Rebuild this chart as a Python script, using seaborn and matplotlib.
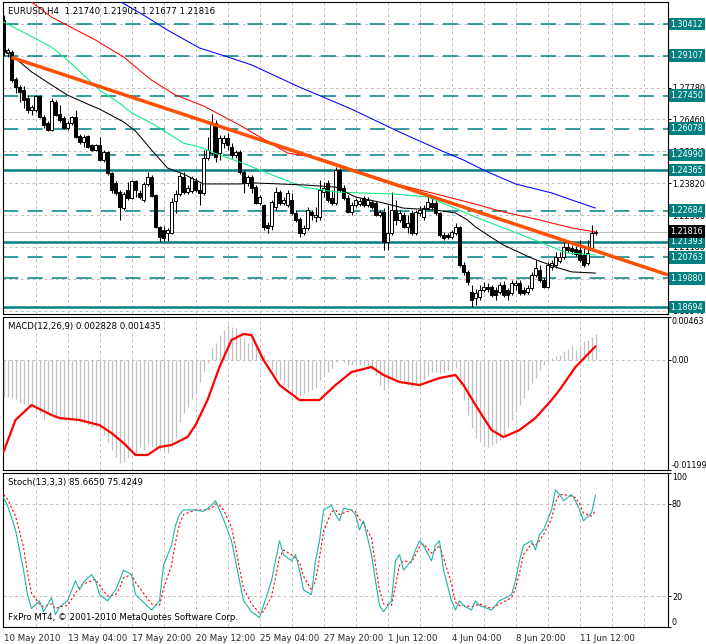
import numpy as np
import matplotlib
matplotlib.use("Agg")
import matplotlib.pyplot as plt
import matplotlib.transforms as mtransforms
import seaborn as sns

# ---------------- data ----------------
open_ = [1.3058,1.2921,1.2925,1.2814,1.2780,1.2768,1.2735,1.2685,1.2685,1.2743,
         1.2656,1.2631,1.2602,1.2718,1.2669,1.2652,1.2611,1.2631,1.2656,1.2578,
         1.2553,1.2578,1.2540,1.2520,1.2540,1.2478,1.2511,1.2424,1.2383,1.2346,
         1.2280,1.2354,1.2321,1.2391,1.2342,1.2313,1.2379,1.2408,1.2333,1.2201,
         1.2188,1.2176,1.2176,1.2308,1.2337,1.2408,1.2346,1.2350,1.2391,1.2354,
         1.2342,1.2487,1.2507,1.2631,1.2507,1.2549,1.2569,1.2532,1.2499,1.2511,
         1.2429,1.2383,1.2408,1.2366,1.2300,1.2292,1.2209,1.2205,1.2284,1.2346,
         1.2300,1.2292,1.2313,1.2259,1.2234,1.2176,1.2197,1.2263,1.2242,1.2242,
         1.2346,1.2383,1.2321,1.2300,1.2437,1.2362,1.2321,1.2263,1.2292,1.2296,
         1.2321,1.2292,1.2304,1.2300,1.2251,1.2263,1.2139,1.2176,1.2271,1.2230,
         1.2251,1.2201,1.2259,1.2176,1.2259,1.2242,1.2280,1.2300,1.2300,1.2259,
         1.2168,1.2168,1.2159,1.2176,1.2201,1.2044,1.2015,1.1932,1.1907,1.1911,
         1.1940,1.1952,1.1952,1.1940,1.1932,1.1961,1.1940,1.1928,1.1961,1.1969,
         1.1940,1.1932,1.1948,1.2002,1.2023,1.1981,1.1952,1.2035,1.2044,1.2060,
         1.2077,1.2118,1.2114,1.2110,1.2106,1.2085,1.2052,1.2114,1.21740]
high_ = [1.3079,1.2942,1.2934,1.2822,1.2789,1.2785,1.2747,1.2706,1.2747,1.2747,
         1.2665,1.2640,1.2735,1.2727,1.2706,1.2660,1.2640,1.2660,1.2685,1.2586,
         1.2582,1.2582,1.2544,1.2544,1.2573,1.2520,1.2516,1.2429,1.2391,1.2354,
         1.2346,1.2387,1.2395,1.2395,1.2354,1.2387,1.2429,1.2416,1.2337,1.2205,
         1.2205,1.2197,1.2321,1.2354,1.2424,1.2429,1.2375,1.2412,1.2404,1.2383,
         1.2520,1.2573,1.2669,1.2644,1.2582,1.2582,1.2590,1.2549,1.2520,1.2520,
         1.2437,1.2416,1.2416,1.2375,1.2333,1.2296,1.2222,1.2313,1.2366,1.2354,
         1.2325,1.2354,1.2342,1.2271,1.2242,1.2209,1.2284,1.2271,1.2284,1.2395,
         1.2387,1.2395,1.2354,1.2449,1.2445,1.2375,1.2333,1.2304,1.2321,1.2321,
         1.2329,1.2325,1.2313,1.2308,1.2271,1.2280,1.2292,1.2346,1.2313,1.2271,
         1.2263,1.2251,1.2271,1.2271,1.2288,1.2292,1.2333,1.2321,1.2313,1.2263,
         1.2180,1.2176,1.2188,1.2217,1.2205,1.2056,1.2023,1.1961,1.1944,1.1961,
         1.1973,1.1969,1.1961,1.1952,1.1973,1.1977,1.1948,1.1981,1.1981,1.1981,
         1.1952,1.1961,1.2015,1.2065,1.2044,1.1990,1.2056,1.2065,1.2097,1.2097,
         1.2139,1.2139,1.2126,1.2122,1.2147,1.2118,1.2147,1.2209,1.21901]
low_ = [1.2909,1.2905,1.2801,1.2756,1.2718,1.2694,1.2673,1.2665,1.2677,1.2652,
        1.2611,1.2598,1.2598,1.2660,1.2636,1.2607,1.2602,1.2623,1.2569,1.2544,
        1.2532,1.2528,1.2516,1.2516,1.2474,1.2470,1.2416,1.2342,1.2333,1.2230,
        1.2271,1.2313,1.2317,1.2325,1.2317,1.2304,1.2371,1.2325,1.2197,1.2139,
        1.2143,1.2143,1.2172,1.2259,1.2329,1.2337,1.2337,1.2342,1.2346,1.2292,
        1.2333,1.2478,1.2499,1.2470,1.2478,1.2528,1.2520,1.2487,1.2487,1.2420,
        1.2342,1.2371,1.2342,1.2296,1.2292,1.2188,1.2176,1.2188,1.2271,1.2292,
        1.2292,1.2284,1.2251,1.2222,1.2159,1.2168,1.2188,1.2230,1.2222,1.2230,
        1.2325,1.2304,1.2292,1.2292,1.2346,1.2313,1.2259,1.2251,1.2284,1.2288,
        1.2284,1.2284,1.2275,1.2246,1.2242,1.2106,1.2106,1.2168,1.2209,1.2222,
        1.2197,1.2176,1.2168,1.2168,1.2246,1.2230,1.2271,1.2275,1.2251,1.2159,
        1.2147,1.2151,1.2151,1.2168,1.2035,1.2002,1.1961,1.1870,1.1878,1.1899,
        1.1932,1.1932,1.1911,1.1899,1.1923,1.1911,1.1899,1.1919,1.1940,1.1919,
        1.1919,1.1923,1.1940,1.1994,1.1973,1.1948,1.1948,1.2023,1.2031,1.2052,
        1.2068,1.2097,1.2089,1.2081,1.2056,1.2035,1.2044,1.2106,1.21677]
close_ = [1.2925,1.2934,1.2809,1.2780,1.2760,1.2727,1.2685,1.2698,1.2743,1.2656,
          1.2623,1.2602,1.2723,1.2665,1.2644,1.2611,1.2631,1.2656,1.2573,1.2553,
          1.2573,1.2532,1.2520,1.2540,1.2478,1.2511,1.2424,1.2354,1.2342,1.2284,
          1.2337,1.2321,1.2391,1.2354,1.2325,1.2379,1.2408,1.2329,1.2201,1.2159,
          1.2155,1.2188,1.2304,1.2337,1.2412,1.2346,1.2362,1.2404,1.2354,1.2342,
          1.2487,1.2520,1.2631,1.2491,1.2569,1.2569,1.2540,1.2499,1.2511,1.2429,
          1.2383,1.2408,1.2362,1.2300,1.2325,1.2201,1.2197,1.2304,1.2346,1.2300,
          1.2313,1.2342,1.2259,1.2230,1.2176,1.2197,1.2271,1.2251,1.2251,1.2354,
          1.2362,1.2313,1.2300,1.2437,1.2354,1.2321,1.2263,1.2292,1.2313,1.2308,
          1.2292,1.2313,1.2284,1.2251,1.2263,1.2139,1.2176,1.2271,1.2230,1.2259,
          1.2201,1.2217,1.2176,1.2263,1.2271,1.2280,1.2304,1.2284,1.2259,1.2168,
          1.2155,1.2159,1.2180,1.2201,1.2044,1.2015,1.1973,1.1899,1.1928,1.1940,
          1.1952,1.1944,1.1919,1.1919,1.1961,1.1919,1.1919,1.1969,1.1969,1.1928,
          1.1928,1.1948,1.2002,1.2031,1.1981,1.1952,1.2044,1.2052,1.2077,1.2077,
          1.2118,1.2106,1.2101,1.2089,1.2065,1.2044,1.2093,1.2176,1.21816]

red_ma_bars = [6,12,23,30,37,43,50,59,71,79,89,99,107,117,125,134,142,148]
red_ma = [1.3145,1.3070,1.2975,1.2905,1.2809,1.2747,1.2702,1.2623,1.2507,1.2486,
          1.2429,1.2375,1.2342,1.2300,1.2263,1.2230,1.2197,1.2180]
blue_ma_bars = [29,35,41,49,56,62,74,87,99,109,115,121,128,137,142,148]
blue_ma = [1.3136,1.3078,1.3016,1.2942,1.2905,1.2872,1.2780,1.2689,1.2594,1.2520,
           1.2478,1.2429,1.2379,1.2342,1.2313,1.2279]
green_ma_bars = [0,12,16,24,29,32,37,41,45,49,54,59,66,75,83,89,98,106,111,118,125,134,141,148]
green_ma = [1.3050,1.2946,1.2892,1.2768,1.2714,1.2673,1.2631,1.2590,1.2548,1.2532,
            1.2499,1.2470,1.2424,1.2366,1.2346,1.2342,1.2337,1.2325,1.2292,1.2242,
            1.2197,1.2139,1.2093,1.2085]
black_ma_bars = [0,2,7,12,16,21,24,30,33,37,41,45,50,59,63,75,83,88,95,100,108,113,116,118,121,125,132,138,142,148]
black_ma = [1.2934,1.2913,1.2843,1.2789,1.2747,1.2710,1.2689,1.2636,1.2598,1.2520,
            1.2445,1.2420,1.2379,1.2379,1.2383,1.2375,1.2366,1.2325,1.2300,1.2279,
            1.2271,1.2259,1.2230,1.2201,1.2168,1.2126,1.2072,1.2035,1.2015,1.2010]

trend_bars = [2, 148]
trend_prices = [1.2903, 1.2102]

level_solid = [1.24365, 1.21393, 1.18694]
level_dashed = [1.30412, 1.29107, 1.27450, 1.26078, 1.24990, 1.22684, 1.20763, 1.19880]
price_ticks = [1.30420, 1.29100, 1.27780, 1.26460, 1.25140, 1.23820, 1.22500, 1.21180, 1.19860, 1.18540]
price_tick_labels = ["", "", "1.27780", "1.26460", "1.25140", "1.23820", "1.22500", "1.21180", "", "1.18540"]

macd_main = [-0.00406,-0.00406,-0.00417,-0.00428,-0.00471,-0.00482,-0.00482,-0.00493,-0.00547,-0.00580,
             -0.00656,-0.00580,-0.00580,-0.00623,-0.00656,-0.00656,-0.00634,-0.00656,-0.00678,-0.00678,
             -0.00689,-0.00710,-0.00732,-0.00732,-0.00765,-0.00819,-0.00895,-0.00982,-0.01058,-0.01123,
             -0.01112,-0.01069,-0.01015,-0.01036,-0.00949,-0.00982,-0.00927,-0.00949,-0.00960,-0.00982,
             -0.00982,-0.01015,-0.00949,-0.00851,-0.00678,-0.00580,-0.00515,-0.00428,-0.00363,-0.00243,
             -0.00135,-0.00037,0.00126,0.00180,0.00267,0.00321,0.00376,0.00354,0.00343,0.00245,
             0.00235,0.00180,0.00213,0.00159,0.00104,0.00050,-0.00026,-0.00113,-0.00167,-0.00222,
             -0.00276,-0.00308,-0.00352,-0.00385,-0.00385,-0.00363,-0.00352,-0.00330,-0.00308,-0.00222,
             -0.00167,-0.00135,-0.00091,-0.00026,-0.00004,-0.00026,-0.00059,-0.00059,-0.00059,-0.00059,
             -0.00059,-0.00080,-0.00113,-0.00167,-0.00276,-0.00330,-0.00276,-0.00222,-0.00200,-0.00222,
             -0.00254,-0.00276,-0.00298,-0.00276,-0.00243,-0.00222,-0.00167,-0.00135,-0.00135,-0.00146,
             -0.00135,-0.00113,-0.00091,-0.00091,-0.00276,-0.00439,-0.00602,-0.00743,-0.00851,-0.00895,
             -0.00927,-0.00949,-0.00927,-0.00906,-0.00873,-0.00819,-0.00743,-0.00656,-0.00569,-0.00493,
             -0.00417,-0.00330,-0.00254,-0.00200,-0.00113,-0.00059,-0.00026,0.00017,0.00039,0.00050,
             0.00093,0.00115,0.00159,0.00104,0.00159,0.00202,0.00213,0.00245,0.00283]
macd_signal_bars = [0,3,7,8,12,14,19,24,27,30,33,36,39,42,46,48,51,54,57,60,62,65,69,74,79,83,87,92,95,99,
                    104,109,113,115,118,122,125,129,133,137,139,143,148]
macd_signal = [-0.01003,-0.00656,-0.00493,-0.00515,-0.00602,-0.00634,-0.00656,-0.00711,-0.00797,-0.00906,
               -0.01036,-0.01036,-0.00949,-0.00927,-0.00841,-0.00711,-0.00439,-0.00080,0.00213,0.00278,
               0.00267,-0.00004,-0.00276,-0.00439,-0.00439,-0.00276,-0.00135,-0.00080,-0.00167,-0.00243,
               -0.00276,-0.00200,-0.00167,-0.00276,-0.00493,-0.00765,-0.00841,-0.00765,-0.00634,-0.00439,
               -0.00330,-0.00080,0.00144]
macd_range = [-0.01199, 0.00463]

stoch_bars = [0,1,3,5,6,7,9,10,12,13,14,16,18,19,20,22,23,24,26,28,29,30,32,33,37,39,40,42,43,44,
              45,48,50,52,53,54,55,57,58,59,60,62,64,65,67,68,69,70,72,73,74,75,77,78,79,80,82,83,84,85,
              87,88,89,90,92,93,94,95,97,98,99,100,102,103,104,105,107,108,109,110,112,113,114,115,117,118,119,122,124,127,
              128,129,130,132,133,134,135,137,138,139,140,142,143,144,145,147,148]
stoch_main = [84,79,63,37,21,12,17,10,19,8,13,17,30,24,29,34,30,21,17,24,
              30,37,34,21,11,17,40,53,66,73,76,76,75,79,82,76,70,56,43,30,
              17,10,6,14,30,43,56,47,43,47,37,24,21,43,56,76,79,73,69,77,
              76,73,63,69,47,30,14,10,17,43,47,37,43,50,56,53,43,53,56,37,
              17,11,17,14,11,17,14,11,17,21,30,43,53,56,50,60,63,76,89,86,
              82,86,82,76,69,74,85.665]
stoch_signal = [86,83,72,52,35,22,15,13,15,12,13,14,22,26,28,30,31,27,20,21,
                25,32,34,29,15,14,25,40,55,67,73,76,76,77,80,79,76,65,52,38,
                25,15,9,10,20,32,45,50,47,45,42,33,24,30,45,62,75,76,73,74,
                76,75,70,67,58,40,24,15,14,27,40,43,42,47,52,54,48,50,53,45,
                28,16,14,14,13,14,15,12,15,19,25,35,47,54,53,56,60,70,81,86,
                86,85,84,80,74,72,75.4249]
stoch_levels = [20, 80]

time_label_bars = [0, 16, 32, 48, 64, 80, 96, 112, 128, 144]
time_labels = ["10 May 2010", "13 May 04:00", "17 May 20:00", "20 May 12:00", "25 May 04:00",
               "27 May 20:00", "1 Jun 12:00", "4 Jun 04:00", "8 Jun 20:00", "11 Jun 12:00"]
grid_bars = list(range(8, 168, 8))

# ---------------- style ----------------
sns.set_theme(style="white")
plt.rcParams["font.family"] = ["DejaVu Sans"]
FS = 6.2
FS_R = 5.8
TEAL = "#008080"
GRID = "#C0C0C0"

W, H = 706, 644
fig = plt.figure(figsize=(W / 100, H / 100), dpi=100)
fig.patch.set_facecolor("white")


def rect(x0, y0, x1, y1):
    return [x0 / W, 1 - y1 / H, (x1 - x0) / W, (y1 - y0) / H]


ax1 = fig.add_axes(rect(3, 2, 668, 314))
ax2 = fig.add_axes(rect(3, 317, 668, 470))
ax3 = fig.add_axes(rect(3, 473, 668, 627))

xlim = (-0.125, 166.125)
for ax in (ax1, ax2, ax3):
    ax.set_facecolor("white")
    ax.set_xlim(*xlim)
    for s in ax.spines.values():
        s.set_color("black")
        s.set_linewidth(0.8)
    ax.set_xticks(grid_bars, minor=True)
    ax.xaxis.remove_overlapping_locs = False
    ax.grid(which="minor", axis="x", color=GRID, lw=0.7, linestyle=(0, (3, 3)))
    ax.set_axisbelow(True)
    ax.yaxis.tick_right()
    ax.tick_params(axis="y", which="major", length=2, width=0.7, labelsize=FS_R, pad=0.8,
                   direction="out", colors="black")
    ax.tick_params(axis="x", which="minor", length=0)

# ---------------- price panel ----------------
o = np.array(open_); h = np.array(high_); l = np.array(low_); c = np.array(close_)
idx = np.arange(len(c))
up = c >= o
ax1.set_ylim(1.18406, 1.31323)
ax1.set_yticks(price_ticks)
ax1.set_yticklabels(price_tick_labels)
ax1.grid(which="major", axis="y", color=GRID, lw=0.7, linestyle=(0, (3, 3)))
ax1.set_xticks([])

for v in level_dashed:
    ax1.axhline(v, color=TEAL, lw=1.1, dashes=(10, 6), zorder=2)
for v in level_solid:
    ax1.axhline(v, color=TEAL, lw=1.8, zorder=2)
ax1.axhline(c[-1], color=GRID, lw=0.8, zorder=2)

ax1.vlines(idx, l, h, color="black", lw=0.75, zorder=3)
ax1.bar(idx[up], np.maximum((c - o)[up], 1e-5), bottom=o[up], width=0.7, color="white",
        edgecolor="black", linewidth=0.7, zorder=4)
ax1.bar(idx[~up], (o - c)[~up], bottom=c[~up], width=0.7, color="black",
        edgecolor="black", linewidth=0.7, zorder=4)

sns.lineplot(x=blue_ma_bars, y=blue_ma, ax=ax1, color="#0000FF", linewidth=0.75, zorder=5)
sns.lineplot(x=red_ma_bars, y=red_ma, ax=ax1, color="#FF0000", linewidth=0.75, zorder=5)
sns.lineplot(x=green_ma_bars, y=green_ma, ax=ax1, color="#00F080", linewidth=0.75, zorder=5)
sns.lineplot(x=black_ma_bars, y=black_ma, ax=ax1, color="black", linewidth=0.75, zorder=5)

slope = (trend_prices[1] - trend_prices[0]) / (trend_bars[1] - trend_bars[0])
tx = [trend_bars[0], xlim[1]]
ty = [trend_prices[0], trend_prices[0] + slope * (xlim[1] - trend_bars[0])]
ax1.plot(tx, ty, color="#FF5000", lw=2.5, solid_capstyle="butt", zorder=6)
ax1.set_xlim(*xlim)
ax1.set_ylim(1.18406, 1.31323)
ax1.set_xlabel(""); ax1.set_ylabel("")

blend1 = mtransforms.blended_transform_factory(ax1.transAxes, ax1.transData)
lab_x = 1 + 2.5 / 665
for v in level_dashed + level_solid:
    ax1.text(lab_x, v, f"{v:.5f}", transform=blend1, va="center", ha="left", color="white",
             fontsize=FS_R, clip_on=False, zorder=10,
             bbox=dict(boxstyle="square,pad=0.24", fc=TEAL, ec="none"))
ax1.text(lab_x, c[-1], f"{c[-1]:.5f}", transform=blend1, va="center", ha="left", color="white",
         fontsize=FS_R, clip_on=False, zorder=11,
         bbox=dict(boxstyle="square,pad=0.24", fc="black", ec="none"))

ax1.text(5 / 665, 0.985, f"EURUSD,H4  {o[-1]:.5f} {h[-1]:.5f} {l[-1]:.5f} {c[-1]:.5f}",
         transform=ax1.transAxes, va="top", ha="left", fontsize=FS, color="black", zorder=12)

# ---------------- MACD panel ----------------
ax2.set_ylim(*macd_range)
ax2.vlines(idx, 0, macd_main, color="#C0C0C0", lw=0.9, zorder=3)
ax2.axhline(0, color=GRID, lw=0.7, linestyle=(0, (3, 3)), zorder=1)
sns.lineplot(x=macd_signal_bars, y=macd_signal, ax=ax2, color="#FF0000", linewidth=1.6, zorder=5)
ax2.set_xlim(*xlim); ax2.set_ylim(*macd_range)
ax2.set_xticks([])
ax2.set_yticks([macd_range[0], 0, macd_range[1]])
ax2.set_yticklabels([f"{macd_range[0]:.5f}", "0.00", f"{macd_range[1]:.5f}"])
labs = ax2.get_yticklabels()
labs[0].set_va("bottom"); labs[2].set_va("top")
ax2.set_xlabel(""); ax2.set_ylabel("")
ax2.text(5 / 665, 0.97, "MACD(12,26,9) 0.002828 0.001435", transform=ax2.transAxes,
         va="top", ha="left", fontsize=FS, color="black", zorder=12)

# ---------------- Stochastic panel ----------------
ax3.set_ylim(0, 100)
for v in stoch_levels:
    ax3.axhline(v, color=GRID, lw=0.7, linestyle=(0, (3, 3)), zorder=1)
sns.lineplot(x=stoch_bars, y=stoch_main, ax=ax3, color="#20B2AA", linewidth=0.8, zorder=5)
sns.lineplot(x=stoch_bars, y=stoch_signal, ax=ax3, color="#FF0000", linewidth=0.8,
             dashes=False, zorder=4, linestyle=(0, (2, 2)))
ax3.set_xlim(*xlim); ax3.set_ylim(0, 100)
ax3.set_yticks([0, 20, 80, 100])
ax3.set_yticklabels(["0", "20", "80", "100"])
labs = ax3.get_yticklabels()
labs[0].set_va("bottom"); labs[3].set_va("top")
ax3.set_xticks(time_label_bars)
ax3.set_xticklabels(time_labels, ha="left")
ax3.tick_params(axis="x", which="major", length=3, width=0.7, labelsize=FS, pad=2, direction="out")
offset = mtransforms.ScaledTranslation(1 / 100, 0, fig.dpi_scale_trans)
for lab in ax3.get_xticklabels():
    lab.set_transform(lab.get_transform() + offset)
ax3.set_xlabel(""); ax3.set_ylabel("")
ax3.text(5 / 665, 0.97, "Stoch(13,3,3) 85.6650 75.4249", transform=ax3.transAxes,
         va="top", ha="left", fontsize=FS, color="black", zorder=12)
ax3.text(5 / 665, 0.03, "FxPro MT4, \u00a9 2001-2010 MetaQuotes Software Corp.", transform=ax3.transAxes,
         va="bottom", ha="left", fontsize=FS, color="black", zorder=12)

fig.savefig("out.png", dpi=100, facecolor="white")
